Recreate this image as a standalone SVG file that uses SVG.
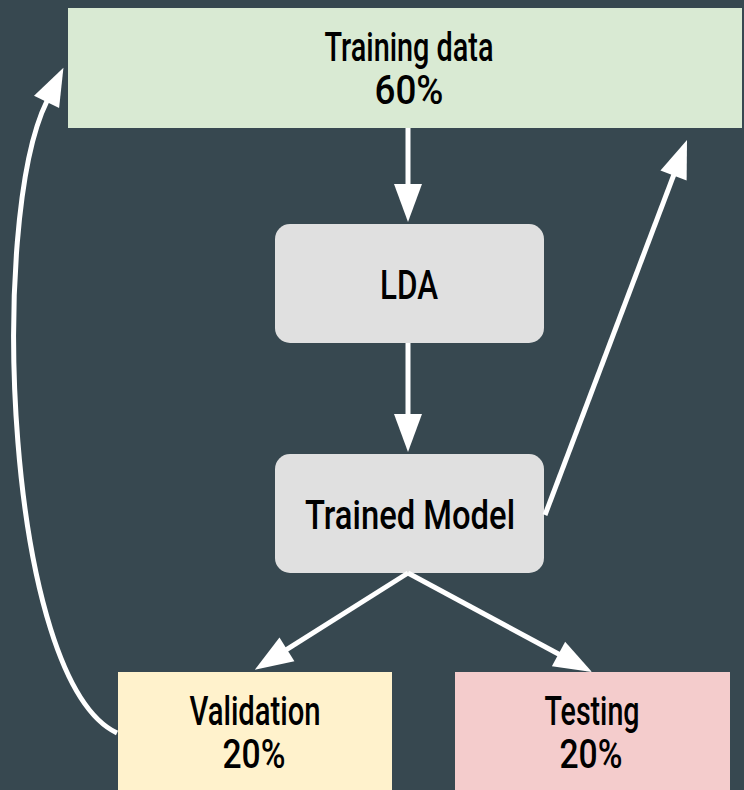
<svg xmlns="http://www.w3.org/2000/svg" width="744" height="790" viewBox="0 0 744 790">
  <style>
    .lbl { font-family: Roboto, "Liberation Sans", sans-serif; font-size: 40px; font-weight: 500; fill: #000000; text-anchor: middle; }
    .edge { stroke: #ffffff; stroke-width: 5; fill: none; }
  </style>
  <defs>
    <marker id="ah" markerUnits="userSpaceOnUse" markerWidth="40" markerHeight="30" refX="1" refY="14" orient="auto" overflow="visible">
      <path d="M0,0 L38,14 L0,28 Z" fill="#ffffff"/>
    </marker>
  </defs>
  <rect x="0" y="0" width="744" height="790" fill="#374850"/>

  <g id="training">
    <rect x="68" y="8" width="674" height="120" fill="#d9ead3"/>
    <text class="lbl" x="409" y="60.5" textLength="169" lengthAdjust="spacingAndGlyphs">Training data</text>
    <text class="lbl" x="409" y="104" textLength="69" lengthAdjust="spacingAndGlyphs">60%</text>
  </g>
  <g id="lda">
    <rect x="275" y="224" width="269" height="119" rx="15" ry="15" fill="#e0e0e0"/>
    <text class="lbl" x="409" y="299" textLength="58" lengthAdjust="spacingAndGlyphs">LDA</text>
  </g>
  <g id="trained">
    <rect x="275" y="454" width="269" height="119" rx="15" ry="15" fill="#e0e0e0"/>
    <text class="lbl" x="410" y="529" textLength="210" lengthAdjust="spacingAndGlyphs">Trained Model</text>
  </g>
  <g id="validation">
    <rect x="118" y="672" width="274" height="120" fill="#fff2cc"/>
    <text class="lbl" x="255" y="725" textLength="131" lengthAdjust="spacingAndGlyphs">Validation</text>
    <text class="lbl" x="254" y="768" textLength="63" lengthAdjust="spacingAndGlyphs">20%</text>
  </g>
  <g id="testing">
    <rect x="455" y="672" width="275" height="120" fill="#f4cccc"/>
    <text class="lbl" x="592" y="725" textLength="95" lengthAdjust="spacingAndGlyphs">Testing</text>
    <text class="lbl" x="591" y="768" textLength="63" lengthAdjust="spacingAndGlyphs">20%</text>
  </g>

  <g id="connectors">
    <line class="edge" x1="408" y1="128" x2="408" y2="185" marker-end="url(#ah)"/>
    <line class="edge" x1="408" y1="343" x2="408" y2="415" marker-end="url(#ah)"/>
    <line class="edge" x1="545" y1="515" x2="673.9" y2="174.6" marker-end="url(#ah)"/>
    <line class="edge" x1="408" y1="573" x2="286.1" y2="649.9" marker-end="url(#ah)"/>
    <line class="edge" x1="408" y1="573" x2="559.4" y2="654.5" marker-end="url(#ah)"/>
    <path class="edge" d="M117,733 C5,680 -12,220 47,101" marker-end="url(#ah)"/>
  </g>
</svg>
